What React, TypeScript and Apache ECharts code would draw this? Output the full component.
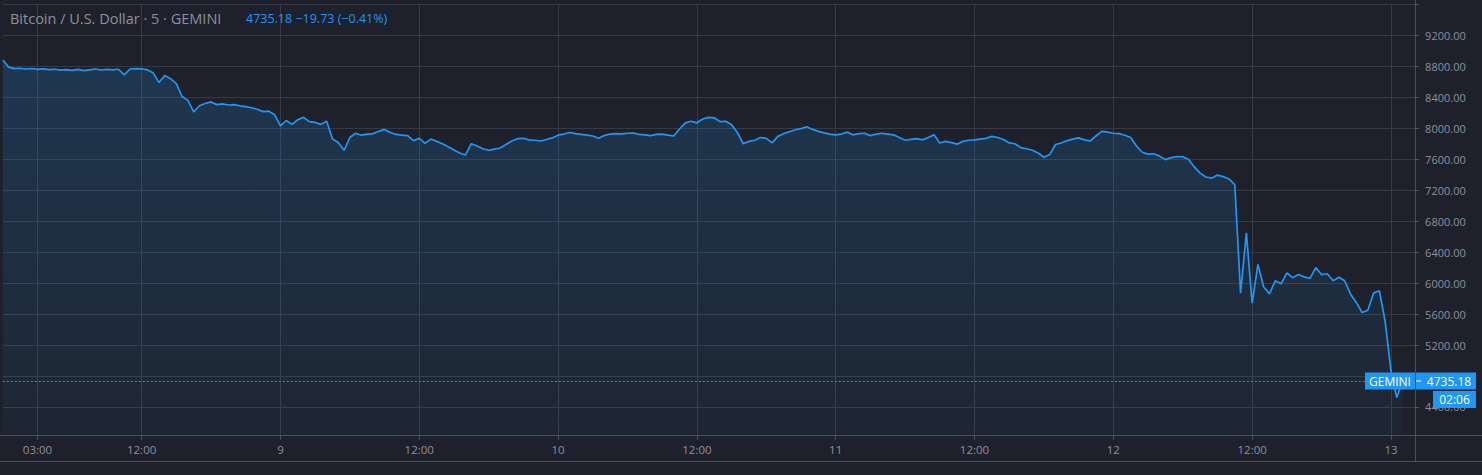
import React, { useEffect, useRef } from "react";
import * as echarts from "echarts";

// Header texts
const SYMBOL = "Bitcoin / U.S. Dollar · 5 · GEMINI";
const QUOTE = "4735.18 −19.73 (−0.41%)";
const EXCHANGE = "GEMINI";
const COUNTDOWN = "02:06";
const LAST_PRICE = 4735.18;

// Half-hourly closes, starting on the 8th at 00:00
const day8 = [
  8880, 8790, 8770, 8775, 8765, 8772, 8760, 8768, 8758, 8762,
  8750, 8757, 8748, 8760, 8745, 8755, 8765, 8752, 8760, 8755,
  8762, 8690, 8765, 8770, 8768, 8755, 8715, 8590, 8680, 8640,
  8575, 8410, 8360, 8210, 8290, 8320, 8340, 8305, 8315, 8300,
  8305, 8290, 8280, 8265, 8245, 8215, 8220, 8175,
];
const day9 = [
  8030, 8100, 8050, 8110, 8140, 8085, 8075, 8050, 8090, 7860,
  7815, 7715, 7880, 7935, 7910, 7925, 7930, 7960, 7985, 7945,
  7920, 7910, 7905, 7840, 7870, 7805, 7860, 7830, 7800, 7760,
  7720, 7680, 7655, 7800, 7770, 7735, 7715, 7730, 7745, 7790,
  7835, 7865, 7870, 7850, 7845, 7835, 7855, 7875,
];
const day10 = [
  7910, 7925, 7945, 7930, 7920, 7910, 7900, 7870, 7905, 7925,
  7930, 7928, 7935, 7938, 7920, 7915, 7905, 7920, 7925, 7910,
  7900, 7990, 8070, 8090, 8070, 8120, 8140, 8135, 8085, 8090,
  8045, 7945, 7800, 7830, 7845, 7880, 7870, 7810, 7895, 7930,
  7955, 7980, 7995, 8020, 7985, 7960, 7940, 7925,
];
const day11 = [
  7915, 7925, 7950, 7915, 7930, 7935, 7905, 7925, 7935, 7925,
  7915, 7880, 7845, 7855, 7865, 7850, 7880, 7915, 7810, 7830,
  7815, 7795, 7830, 7845, 7850, 7860, 7870, 7895, 7880, 7855,
  7810, 7800, 7750, 7735, 7715, 7680, 7625, 7660, 7790, 7810,
  7840, 7860, 7875, 7850, 7835, 7900, 7960, 7950,
];
const day12 = [
  7935, 7930, 7910, 7880, 7770, 7690, 7665, 7670, 7640, 7595,
  7620, 7635, 7630, 7600, 7500, 7420, 7370, 7355, 7395, 7375,
  7345, 7270, 5870, 6650, 5740, 6240, 5950, 5860, 6030, 5990,
  6130, 6070, 6110, 6080, 6060, 6200, 6110, 6120, 6030, 6075,
  6030, 5860, 5750, 5620, 5650, 5870, 5900, 5500,
];
const day13 = [4870, 4520, LAST_PRICE];

// Price scale labels that are printed (4800 sits under the last-price tag)
const PRICE_LABELS = [4400, 5200, 5600, 6000, 6400, 6800, 7200, 7600, 8000, 8400, 8800, 9200];

// Time scale: 30-minute slots from the 8th 00:00 to the 13th 02:00
const FIRST_DAY = 8;
const SLOTS_PER_DAY = 48;
const SLOT_COUNT = 245;

const BG = "#1e212b";
const GRID = "#363a45";
const FRAME = "#4d505a";
const TEXT = "#8d909a";
const BLUE = "#2196f3";
const FONT = "'Open Sans', Roboto, sans-serif";

const prices: (number | null)[] = [...day8, ...day9, ...day10, ...day11, ...day12, ...day13];

const categories: string[] = [];
for (let k = 0; k < SLOT_COUNT; k++) {
  const minutes = (k * 30) % (24 * 60);
  const day = FIRST_DAY + Math.floor(k / SLOTS_PER_DAY);
  const hh = Math.floor(minutes / 60);
  const mm = minutes % 60;
  categories.push(
    minutes === 0 ? String(day) : `${String(hh).padStart(2, "0")}:${String(mm).padStart(2, "0")}`
  );
}
const seriesData = categories.map((_, i) => (i < prices.length ? prices[i] : null));

// Labelled slots: 03:00 on the first day, then every noon and midnight
const isMajor = (index: number) => index === 6 || (index > 0 && index % 24 === 0);

export default function App() {
  const ref = useRef<HTMLDivElement>(null);

  useEffect(() => {
    if (!ref.current) return;
    const chart = echarts.init(ref.current, undefined, { renderer: "svg" });

    chart.setOption({
      animation: false,
      backgroundColor: BG,
      textStyle: { fontFamily: FONT },
      grid: { left: 2.8, top: -2, width: 1411.3, height: 439.9, containLabel: false },
      xAxis: {
        type: "category",
        data: categories,
        boundaryGap: false,
        offset: -3,
        axisLine: { show: false },
        axisTick: { show: true, interval: isMajor, length: 5, lineStyle: { color: FRAME } },
        axisLabel: { interval: isMajor, color: TEXT, fontSize: 11.5, margin: 9, fontFamily: FONT },
        splitLine: { show: true, interval: isMajor, lineStyle: { color: GRID, width: 1 } },
      },
      yAxis: {
        type: "value",
        position: "right",
        min: 4000,
        max: 9656.5,
        interval: 400,
        axisLine: { show: false },
        axisTick: { show: true, length: 5, lineStyle: { color: FRAME } },
        axisLabel: {
          color: TEXT,
          fontSize: 11,
          margin: 11,
          fontFamily: FONT,
          showMinLabel: false,
          showMaxLabel: false,
          formatter: (v: number) => (PRICE_LABELS.includes(v) ? v.toFixed(2) : ""),
        },
        splitLine: { show: true, showMinLine: false, lineStyle: { color: GRID, width: 1 } },
      },
      series: [
        {
          type: "line",
          data: seriesData,
          showSymbol: false,
          symbol: "none",
          connectNulls: false,
          lineStyle: { color: BLUE, width: 1.7 },
          areaStyle: {
            origin: 4037,
            color: new echarts.graphic.LinearGradient(0, 0, 0, 1, [
              { offset: 0, color: "rgba(33,150,243,0.27)" },
              { offset: 1, color: "rgba(33,150,243,0.05)" },
            ]),
          },
          markLine: {
            silent: true,
            symbol: "none",
            label: { show: false },
            lineStyle: { color: BLUE, type: [2, 2], width: 1, opacity: 1 },
            data: [{ yAxis: LAST_PRICE }],
          },
        },
      ],
    });

    const y = chart.convertToPixel({ yAxisIndex: 0 }, LAST_PRICE) as number;
    const tagFont = `12px ${FONT}`;

    chart.setOption({
      graphic: [
        // strip along the top edge of the plot (hides the 9600 rule above the scale)
        { type: "rect", z: 40, shape: { x: 0, y: 0, width: 1415, height: 4 }, style: { fill: BG } },
        { type: "line", z: 50, shape: { x1: 0, y1: 435.5, x2: 1482, y2: 435.5 }, style: { stroke: FRAME, lineWidth: 1 } },
        { type: "line", z: 50, shape: { x1: 0, y1: 461.5, x2: 1482, y2: 461.5 }, style: { stroke: FRAME, lineWidth: 1 } },
        { type: "line", z: 50, shape: { x1: 1415.5, y1: 0, x2: 1415.5, y2: 462 }, style: { stroke: FRAME, lineWidth: 1 } },
        {
          type: "text", z: 60, x: 10, y: 18,
          style: { text: SYMBOL, fill: TEXT, font: `14.5px ${FONT}`, align: "left", verticalAlign: "middle" },
        },
        {
          type: "text", z: 60, x: 246, y: 18,
          style: { text: QUOTE, fill: BLUE, font: `12.5px ${FONT}`, align: "left", verticalAlign: "middle" },
        },
        { type: "rect", z: 100, shape: { x: 1365, y: y - 8.5, width: 50, height: 17 }, style: { fill: BLUE } },
        {
          type: "text", z: 101, x: 1390, y: y + 0.5,
          style: { text: EXCHANGE, fill: "#ffffff", font: tagFont, align: "center", verticalAlign: "middle" },
        },
        { type: "rect", z: 100, shape: { x: 1416, y: y - 8.5, width: 60, height: 17 }, style: { fill: BLUE } },
        { type: "line", z: 101, shape: { x1: 1416, y1: y, x2: 1421, y2: y }, style: { stroke: "#ffffff", lineWidth: 1 } },
        {
          type: "text", z: 101, x: 1449, y: y + 0.5,
          style: { text: LAST_PRICE.toFixed(2), fill: "#ffffff", font: tagFont, align: "center", verticalAlign: "middle" },
        },
        { type: "rect", z: 100, shape: { x: 1433, y: y + 10, width: 43, height: 17 }, style: { fill: BLUE } },
        {
          type: "text", z: 101, x: 1454.5, y: y + 19,
          style: { text: COUNTDOWN, fill: "#ffffff", font: tagFont, align: "center", verticalAlign: "middle" },
        },
      ],
    });

    return () => chart.dispose();
  }, []);

  return (
    <div
      ref={ref}
      style={{ position: "fixed", left: 0, top: 0, width: 1482, height: 475, background: BG }}
    />
  );
}
